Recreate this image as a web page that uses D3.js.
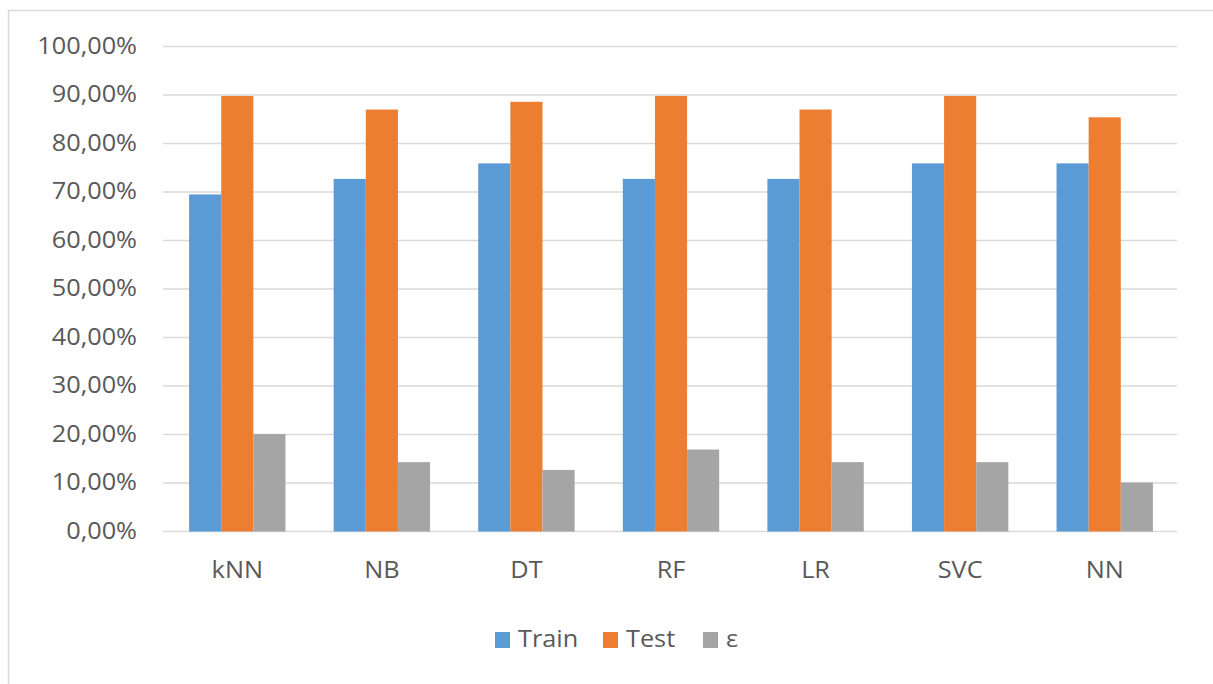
<!DOCTYPE html>
<html>
<head>
<meta charset="utf-8">
<script src="https://cdn.jsdelivr.net/npm/d3@7"></script>
<style>
  html, body { margin: 0; padding: 0; background: #fff; }
  svg { display: block; }
  text { font-family: "Open Sans", "Noto Sans", sans-serif; fill: #595959; }
</style>
</head>
<body>
<svg id="chart" width="1213" height="684"></svg>
<script>
// Model accuracy per classifier (train / test) and the gap ε between them
const categories = ["kNN", "NB", "DT", "RF", "LR", "SVC", "NN"];
const seriesNames = ["Train", "Test", "ε"];
const trainValues = [0.695, 0.727, 0.759, 0.727, 0.727, 0.759, 0.759];
const testValues  = [0.898, 0.870, 0.886, 0.898, 0.870, 0.898, 0.854];
const epsValues   = [0.201, 0.143, 0.127, 0.169, 0.143, 0.143, 0.101];
const yTicks = [0, 0.1, 0.2, 0.3, 0.4, 0.5, 0.6, 0.7, 0.8, 0.9, 1.0];
const colors = ["#5b9bd5", "#ed7d31", "#a5a5a5"];

const series = [trainValues, testValues, epsValues];

const svg = d3.select("#chart");
const W = 1213, H = 684;
const margin = { left: 165, right: 36, top: 46.5, bottom: 152.5 };
const fontSize = 23;
const stretch = 1.1;   // wide label lettering

// outer chart-area frame
svg.append("rect")
  .attr("x", 8.5).attr("y", 10.5)
  .attr("width", W + 20).attr("height", H + 20)
  .attr("fill", "none").attr("stroke", "#d9d9d9").attr("stroke-width", 1.5);

const x0 = d3.scaleBand()
  .domain(categories)
  .range([margin.left, W - margin.right])
  .paddingInner(0)
  .paddingOuter(0);

// gap width 150%: three bars plus 1.5 bar widths of gap per category
const barW = x0.bandwidth() / 4.5;
const x1 = d3.scaleBand()
  .domain(seriesNames)
  .range([0, barW * 3]);

const y = d3.scaleLinear()
  .domain([0, 1])
  .range([H - margin.bottom, margin.top]);

const fmt = v => d3.format(".2f")(v * 100).replace(".", ",") + "%";

// horizontal gridlines
svg.append("g")
  .selectAll("line")
  .data(yTicks)
  .join("line")
  .attr("x1", 163).attr("x2", W - margin.right)
  .attr("y1", d => y(d)).attr("y2", d => y(d))
  .attr("stroke", "#d9d9d9").attr("stroke-width", 1.5);

// y axis labels
const yAxis = d3.axisLeft(y).tickValues(yTicks).tickFormat(fmt).tickSize(0).tickPadding(0);
const gy = svg.append("g")
  .attr("transform", `translate(137,0)`)
  .call(yAxis);
gy.select(".domain").remove();
gy.selectAll("text")
  .attr("x", 0)
  .attr("dy", "0.3em")
  .attr("transform", `scale(${stretch},1)`)
  .attr("font-size", fontSize)
  .attr("font-family", "\"Open Sans\", \"Noto Sans\", sans-serif")
  .attr("fill", "#595959");

// bars
const groups = svg.append("g")
  .selectAll("g")
  .data(categories)
  .join("g")
  .attr("transform", d => `translate(${x0(d) + (x0.bandwidth() - barW * 3) / 2},0)`);

groups.selectAll("rect")
  .data((d, i) => seriesNames.map((s, k) => ({ s, v: series[k][i], k })))
  .join("rect")
  .attr("x", d => x1(d.s))
  .attr("width", x1.bandwidth())
  .attr("y", d => y(d.v))
  .attr("height", d => y(0) - y(d.v))
  .attr("fill", d => colors[d.k]);

// x axis
const xAxis = d3.axisBottom(x0).tickSize(0).tickPadding(0);
const gx = svg.append("g")
  .attr("transform", `translate(0,${y(0)})`)
  .call(xAxis);
gx.select(".domain").remove();
gx.selectAll("text")
  .attr("dy", 0)
  .attr("y", 47)
  .attr("transform", `scale(${stretch},1)`)
  .attr("font-size", fontSize)
  .attr("font-family", "\"Open Sans\", \"Noto Sans\", sans-serif")
  .attr("fill", "#595959");

// legend
const legendItems = [
  { name: "Train", x: 495 },
  { name: "Test", x: 603 },
  { name: "ε", x: 703 }
];
const legend = svg.append("g");
legendItems.forEach((it, k) => {
  legend.append("rect")
    .attr("x", it.x).attr("y", 632)
    .attr("width", 15).attr("height", 16)
    .attr("fill", colors[k]);
  legend.append("text")
    .attr("transform", `translate(${it.x + 23},647) scale(${stretch},1)`)
    .attr("font-size", fontSize)
    .text(it.name);
});
</script>
</body>
</html>
